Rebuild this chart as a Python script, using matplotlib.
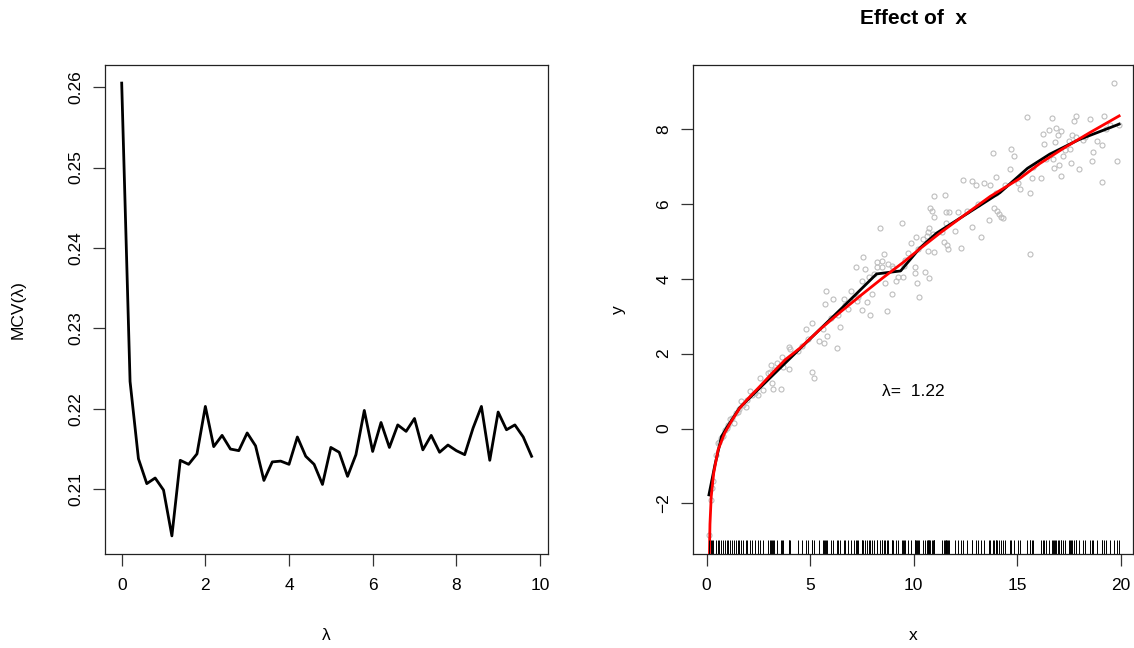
import numpy as np
import matplotlib
matplotlib.use('Agg')
import matplotlib.pyplot as plt
import matplotlib.transforms as mtransforms

plt.rcParams['font.family'] = ['Liberation Sans', 'DejaVu Sans']

# left panel: MCV(lambda)
lam = [0.0, 0.2, 0.4, 0.6, 0.8, 1.0, 1.2, 1.4, 1.6, 1.8,
       2.0, 2.2, 2.4, 2.6, 2.8, 3.0, 3.2, 3.4, 3.6, 3.8,
       4.0, 4.2, 4.4, 4.6, 4.8, 5.0, 5.2, 5.4, 5.6, 5.8,
       6.0, 6.2, 6.4, 6.6, 6.8, 7.0, 7.2, 7.4, 7.6, 7.8,
       8.0, 8.2, 8.4, 8.6, 8.8, 9.0, 9.2, 9.4, 9.6, 9.8]
mcv = [0.2605, 0.2234, 0.2138, 0.2107, 0.2114, 0.2099, 0.2042, 0.2136, 0.2131, 0.2144,
       0.2203, 0.2153, 0.2167, 0.2150, 0.2148, 0.2170, 0.2154, 0.2111, 0.2134, 0.2135,
       0.2131, 0.2165, 0.2141, 0.2131, 0.2106, 0.2152, 0.2146, 0.2116, 0.2143, 0.2198,
       0.2147, 0.2183, 0.2152, 0.2180, 0.2172, 0.2188, 0.2149, 0.2167, 0.2146, 0.2155,
       0.2148, 0.2143, 0.2176, 0.2203, 0.2136, 0.2196, 0.2174, 0.2180, 0.2165, 0.2141]

# right panel: data points
x_pts = [0.10, 0.33, 0.56, 0.80, 0.97, 1.14, 1.30, 1.51, 1.58, 1.67,
         1.88, 2.07, 2.47, 2.57, 2.73, 2.94, 3.06, 3.10, 3.17, 3.21,
         3.27, 3.42, 3.57, 3.62, 3.71, 3.99, 4.00, 4.03, 4.43, 4.80,
         5.07, 5.11, 5.20, 5.44, 5.64, 5.67, 5.73, 5.78, 5.80, 6.09,
         6.28, 6.37, 6.44, 6.63, 6.85, 6.97, 7.21, 7.28, 7.33, 7.50,
         7.52, 7.57, 7.65, 7.77, 7.86, 7.89, 7.97, 8.10, 8.21, 8.21,
         8.37, 8.45, 8.45, 8.58, 8.61, 8.69, 8.74, 8.94, 8.94, 9.16,
         9.26, 9.43, 9.47, 9.53, 9.74, 9.87, 10.06, 10.11, 10.08, 10.14,
         10.24, 10.45, 10.57, 10.63, 10.68, 10.71, 10.76, 10.76, 10.80, 10.91,
         10.98, 10.98, 10.98, 10.95, 11.35, 11.45, 11.53, 11.56, 11.56, 11.60,
         11.68, 11.72, 12.00, 12.16, 12.27, 12.40, 12.83, 12.83, 13.01, 13.24,
         13.41, 13.64, 13.69, 13.85, 13.87, 13.98, 14.05, 14.14, 14.24, 14.32,
         14.65, 14.72, 14.85, 15.06, 15.14, 15.46, 15.60, 15.62, 15.71, 15.78,
         16.16, 16.23, 16.30, 16.53, 16.68, 16.75, 16.79, 16.82, 16.90, 16.96,
         17.02, 17.13, 17.12, 17.22, 17.52, 17.57, 17.61, 17.64, 17.76, 17.84,
         17.87, 17.97, 18.52, 18.60, 18.68, 18.88, 19.08, 19.10, 19.19, 19.66,
         19.84, 19.94,
         # points lying under the curves (seen in the rug)
         0.20, 0.25, 0.45, 0.62, 0.70, 0.90, 1.05, 1.22, 1.40, 1.75,
         1.95, 2.20, 2.35, 4.60, 4.90, 6.00, 6.70, 7.10, 9.00, 9.60,
         10.20, 12.60, 13.10, 14.00, 14.40, 16.40, 17.30, 18.20, 18.30, 19.30,
         19.50]
y_pts = [-2.85, -1.39, -0.39, -0.21, 0.01, 0.25, 0.15, 0.45, 0.52, 0.73,
         0.58, 0.99, 0.90, 1.36, 1.02, 1.49, 1.52, 1.70, 1.22, 1.05,
         1.57, 1.74, 1.05, 1.92, 1.64, 1.58, 2.17, 2.12, 2.06, 2.66,
         2.81, 1.50, 1.36, 2.35, 2.65, 2.28, 3.33, 3.67, 2.47, 3.45,
         2.16, 3.03, 2.72, 3.46, 3.19, 3.67, 4.31, 3.42, 3.52, 3.17,
         3.94, 4.59, 4.25, 3.39, 4.06, 3.02, 3.59, 4.14, 4.46, 4.31,
         5.36, 4.48, 4.32, 4.67, 3.90, 3.15, 4.39, 4.34, 3.59, 3.95,
         4.06, 5.48, 4.06, 4.35, 4.68, 4.96, 4.16, 5.12, 4.31, 3.88,
         3.51, 5.05, 4.19, 5.13, 4.75, 5.26, 5.36, 4.01, 5.90, 5.80,
         5.66, 4.71, 6.21, 5.19, 5.26, 4.99, 6.25, 5.78, 5.48, 4.90,
         4.80, 5.78, 5.28, 5.79, 4.82, 6.65, 5.38, 6.62, 6.51, 5.12,
         6.57, 5.57, 6.51, 7.36, 5.88, 6.73, 5.80, 5.73, 5.66, 5.62,
         6.92, 7.46, 7.28, 6.55, 6.41, 8.33, 6.28, 4.65, 6.68, 6.99,
         6.68, 7.87, 7.60, 7.97, 8.30, 7.21, 6.97, 7.66, 8.03, 7.83,
         7.04, 7.95, 6.75, 7.27, 7.69, 7.46, 7.08, 7.83, 8.22, 7.79,
         8.35, 6.92, 8.28, 7.14, 7.38, 7.67, 7.57, 6.59, 8.35, 9.24,
         7.15, 8.12,
         -1.90, -1.60, -0.70, -0.35, -0.25, -0.05, 0.10, 0.28, 0.42, 0.62,
         0.75, 0.90, 0.95, 2.20, 2.40, 2.95, 3.30, 3.50, 4.30, 4.50,
         4.80, 5.80, 6.00, 6.30, 6.50, 7.20, 7.45, 7.70, 7.80, 8.00,
         8.10]

# fitted curve (black) and true curve (red)
fit_x = [0.11, 0.40, 0.72, 1.0, 1.6, 2.5, 4.5, 6.5, 8.21, 9.37,
         10.3, 11.11, 12.5, 14.17, 15.5, 16.58, 18.0, 19.93]
fit_y = [-1.77, -0.97, -0.21, 0.05, 0.56, 1.05, 2.13, 3.2, 4.13, 4.21,
         4.82, 5.22, 5.71, 6.30, 6.95, 7.33, 7.72, 8.13]
true_x = [0.13, 0.16, 0.22, 0.34, 0.55, 0.87, 1.2, 1.59, 2.0, 2.56,
          3.2, 3.8, 4.51, 5.5, 6.5, 7.5, 8.5, 9.5, 10.3, 11.27,
          12.5, 13.7, 15.13, 16.1, 17.2, 18.5, 19.93]
true_y = [-3.45, -2.55, -1.82, -1.19, -0.57, -0.12, 0.2, 0.54, 0.8, 1.12,
          1.5, 1.84, 2.15, 2.66, 3.13, 3.58, 4.02, 4.44, 4.8, 5.22,
          5.72, 6.2, 6.68, 7.08, 7.47, 7.9, 8.35]
lam_best = 1.22

W, H = 1134, 648
fig = plt.figure(figsize=(W / 100, H / 100), dpi=100)
fs = 12.5


def px_box(l, r, t, b):
    return [l / W, 1 - b / H, (r - l) / W, (b - t) / H]


def style_axes(ax):
    for s in ax.spines.values():
        s.set_linewidth(0.9)
        s.set_color('#222222')
    ax.tick_params(direction='out', length=8.5, width=0.9, color='#333333',
                   labelsize=fs, pad=9)
    ax.tick_params(axis='y', pad=7)
    for lab in ax.get_yticklabels():
        lab.set_rotation(90)
        lab.set_va('center')


# left
ax1 = fig.add_axes(px_box(105.3, 548, 65, 554))
ax1.plot(lam, mcv, color='black', lw=2)
ax1.set_xlim(-0.392, 10.192)
ax1.set_ylim(0.20195, 0.26275)
ax1.set_xticks([0, 2, 4, 6, 8, 10])
ax1.set_yticks([0.21, 0.22, 0.23, 0.24, 0.25, 0.26])
ax1.set_yticklabels(['0.21', '0.22', '0.23', '0.24', '0.25', '0.26'])
style_axes(ax1)
fig.text(18 / W, 1 - 309.5 / H, 'MCV(λ)', rotation=90, ha='center', va='center', fontsize=fs)
fig.text(326.7 / W, 1 - 635 / H, 'λ', ha='center', va='center', fontsize=fs)

# right
ax2 = fig.add_axes(px_box(693, 1133, 65, 554))
ax2.plot(x_pts, y_pts, 'o', mfc='none', mec='#bebebe', ms=3.6, mew=0.8)
ax2.plot(fit_x, fit_y, color='black', lw=2)
ax2.plot(true_x, true_y, color='red', lw=2)
trans = mtransforms.blended_transform_factory(ax2.transData, ax2.transAxes)
ax2.vlines(x_pts, 0, 0.028, transform=trans, color='black', lw=0.7)
ax2.text(10, 1, 'λ=  %.2f' % lam_best, ha='center', va='center', fontsize=fs)
ax2.set_xlim(-0.66, 20.6)
ax2.set_ylim(-3.35, 9.71)
ax2.set_xticks([0, 5, 10, 15, 20])
ax2.set_yticks([-2, 0, 2, 4, 6, 8])
style_axes(ax2)
fig.text(618 / W, 1 - 309.5 / H, 'y', rotation=90, ha='center', va='center', fontsize=fs)
fig.text(913 / W, 1 - 635 / H, 'x', ha='center', va='center', fontsize=fs)
fig.text(913 / W, 1 - 19 / H, 'Effect of  x', ha='center', va='center',
         fontsize=fs * 1.2, fontweight='bold')

fig.savefig('out.png', dpi=100)
